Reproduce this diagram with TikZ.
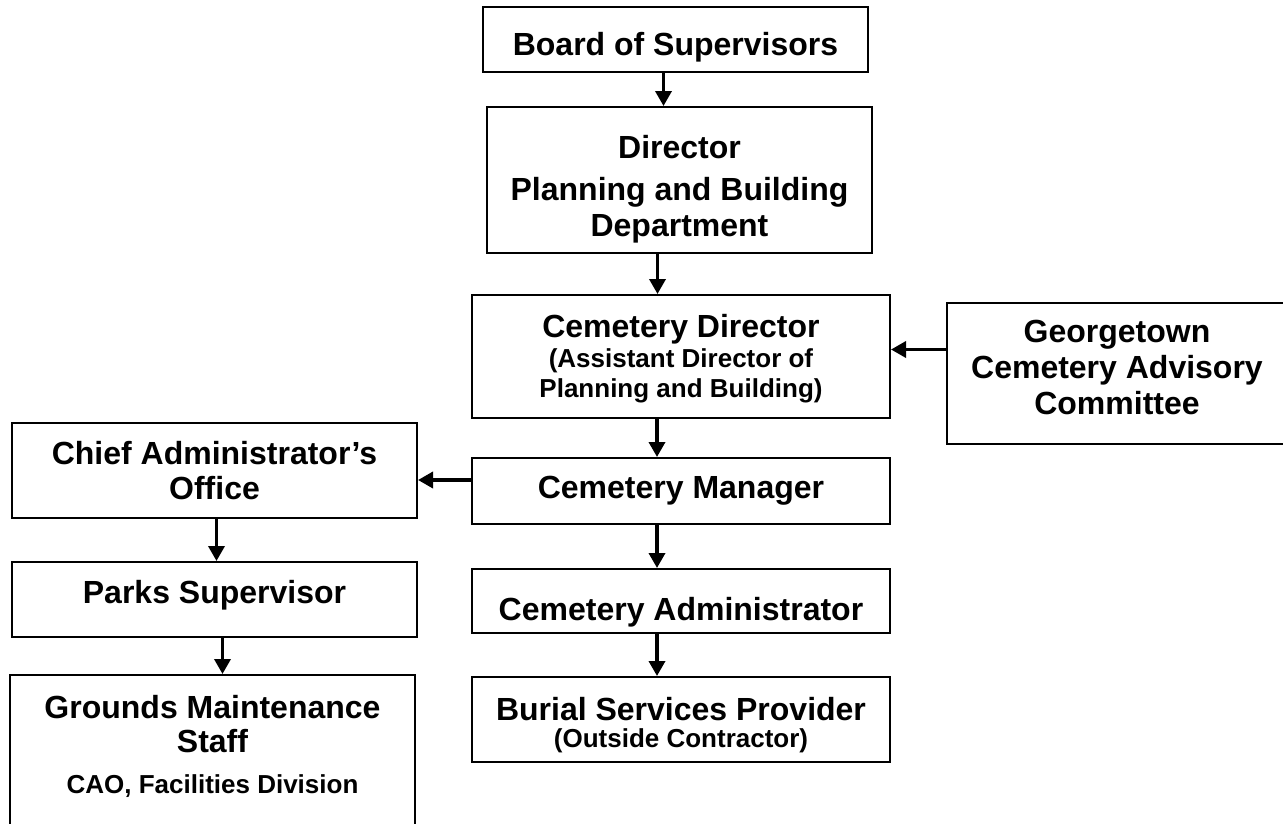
\documentclass[tikz,border=0pt]{standalone}
\usepackage{fontspec}
\setmainfont{Liberation Sans}
\usetikzlibrary{arrows.meta}
\newcommand{\smalltxt}{\fontsize{26}{29}\selectfont}
\newcommand{\hstrut}[1]{\rule{0pt}{#1}}
\newcommand{\dstrut}[1]{\rule[-#1]{0pt}{0pt}}
\begin{document}
\begin{tikzpicture}[x=1pt,y=-1pt,
  box/.style={draw,line width=2pt,fill=white,align=center,inner sep=0pt,
    font=\bfseries\fontsize{32}{36}\selectfont},
  arr/.style={line width=3.5pt,-{Triangle[length=15pt,width=16pt]}}]
\useasboundingbox (0,0) rectangle (1283,823);

\node[box,minimum width=385pt,minimum height=65pt] (board) at (675.5,39.5)
  {\hstrut{37.8pt}Board of Supervisors};
\node[box,minimum width=385pt,minimum height=146pt] (dir) at (679.5,180)
  {\hstrut{40.8pt}Director\\[6pt]Planning and Building\\Department};
\node[box,minimum width=418pt,minimum height=123pt] (cemdir) at (681,356.5)
  {\hstrut{26.5pt}Cemetery Director\\[-6pt]\smalltxt (Assistant Director of\\[-6pt]\smalltxt Planning and Building)};
\node[box,minimum width=340pt,minimum height=141pt] (gcac) at (1117,373.5)
  {Georgetown\\Cemetery Advisory\\Committee\dstrut{12pt}};
\node[box,minimum width=418pt,minimum height=66pt] (cm) at (681,491)
  {Cemetery Manager};
\node[box,minimum width=418pt,minimum height=64pt] (cadmin) at (681,601)
  {\hstrut{45pt}Cemetery Administrator};
\node[box,minimum width=418pt,minimum height=85pt] (burial) at (681,719.5)
  {\hstrut{33.5pt}Burial Services Provider\\[-9pt]\smalltxt (Outside Contractor)};

\node[box,minimum width=405pt,minimum height=95pt] (cao) at (214.5,470.5)
  {\hstrut{24pt}Chief Administrator’s\\[-1pt]Office};
\node[box,minimum width=405pt,minimum height=75pt] (parks) at (214.5,599.5)
  {Parks Supervisor\dstrut{15.9pt}};
\node[box,minimum width=405pt,minimum height=151pt] (grounds) at (212.5,750.5)
  {Grounds Maintenance\\[-2pt]Staff\\[5pt]\smalltxt CAO, Facilities Division\dstrut{13pt}};

\draw[arr] ([xshift=-12pt]board.south) -- ([xshift=-12pt]board.south |- dir.north);
\draw[arr] ([xshift=-22pt]dir.south) -- ([xshift=-22pt]dir.south |- cemdir.north);
\draw[arr] ([xshift=-24pt]cemdir.south) -- ([xshift=-24pt]cemdir.south |- cm.north);
\draw[arr] ([xshift=-24pt]cm.south) -- ([xshift=-24pt]cm.south |- cadmin.north);
\draw[arr] ([xshift=-24pt]cadmin.south) -- ([xshift=-24pt]cadmin.south |- burial.north);

\draw[arr] ([yshift=24pt]gcac.west) -- ([yshift=24pt]gcac.west -| cemdir.east);
\draw[arr] ([yshift=11pt]cm.west) -- ([yshift=11pt]cm.west -| cao.east);

\draw[arr] ([xshift=2pt]cao.south) -- ([xshift=2pt]cao.south |- parks.north);
\draw[arr] ([xshift=8pt]parks.south) -- ([xshift=8pt]parks.south |- grounds.north);
\end{tikzpicture}
\end{document}
